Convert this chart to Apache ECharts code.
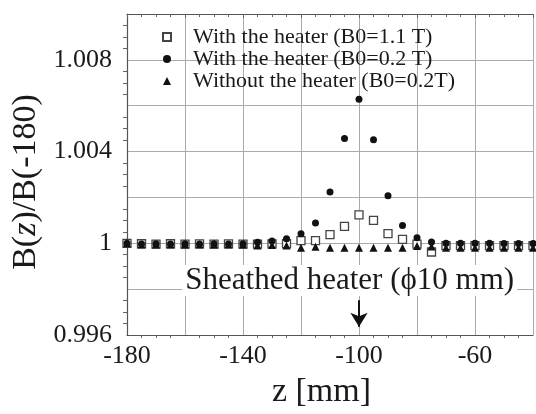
<!DOCTYPE html>
<html>
<head>
<meta charset="utf-8">
<script src="https://cdn.jsdelivr.net/npm/echarts@6/dist/echarts.min.js"></script>
<style>
  html, body { margin: 0; padding: 0; background: #fff; }
  #chart { width: 536px; height: 414px; }
</style>
</head>
<body>
<div id="chart"></div>
<script>
// z positions [mm]
var zList = [-180, -175, -170, -165, -160, -155, -150, -145, -140, -135, -130, -125, -120, -115, -110,
  -105, -100, -95, -90, -85, -80, -75, -70, -65, -60, -55, -50, -45, -40];
// with the heater, B0=1.1 T (open squares)
var heater11 = [1.0, 0.99998, 0.99996, 0.99998, 0.99996, 0.99997, 0.99996, 0.99997, 0.99996, 0.99996,
  0.99997, 0.99998, 1.00012, 1.00012, 1.00038, 1.00074, 1.00124, 1.00100, 1.00042, 1.00017,
  0.99996, 0.99962, 0.99990, 0.99990, 0.99990, 0.99990, 0.99990, 0.99990, 0.99990];
// with the heater, B0=0.2 T (filled circles)
var heater02 = [1.0, 0.99997, 0.99998, 0.99997, 0.99998, 0.99997, 0.99998, 0.99997, 0.99998, 1.00005,
  1.00010, 1.00020, 1.00042, 1.00088, 1.00224, 1.00457, 1.00628, 1.00452, 1.00207, 1.00078,
  1.00024, 1.00006, 1.0, 1.0, 1.0, 1.0, 0.99999, 0.99999, 0.99999];
// without the heater, B0=0.2 T (filled triangles)
var noHeater = [1.0, 0.99995, 0.99995, 0.99995, 0.99995, 0.99995, 0.99995, 0.99995, 0.99995, 0.99990,
  0.99992, 0.99990, 0.99981, 0.99985, 0.99981, 0.99981, 0.99981, 0.99981, 0.99981, 0.99981,
  0.99988, 0.99986, 0.99981, 0.99981, 0.99981, 0.99981, 0.99981, 0.99981, 0.99981];

var names = ['With the heater (B0=1.1 T)', 'With the heater (B0=0.2 T)', 'Without the heater (B0=0.2T)'];
var serif = 'Liberation Serif';

function pairs(vals) {
  return zList.map(function (z, i) { return [z, vals[i]]; });
}

var myChart = echarts.init(document.getElementById('chart'));
var option = {
  backgroundColor: '#fff',
  animation: false,
  legend: {
    orient: 'vertical',
    left: 162,
    top: 26,
    padding: 0,
    itemGap: 0,
    itemWidth: 8,
    itemHeight: 8,
    data: names,
    textStyle: {
      fontFamily: serif,
      fontSize: 22,
      lineHeight: 21,
      color: '#1a1a1a',
      padding: [0, 0, 0, 17]
    }
  },
  grid: { left: 127, right: 0, top: 14, bottom: 73 },
  xAxis: [{
    type: 'value',
    min: -180,
    max: -40,
    interval: 20,
    name: 'z [mm]',
    nameLocation: 'middle',
    nameGap: 40,
    nameTextStyle: { fontFamily: serif, fontSize: 34, color: '#1a1a1a', padding: [0, 17, 0, 0] },
    axisLine: { lineStyle: { color: '#555', width: 1.2 } },
    axisTick: { show: false },
    minorTick: { show: true, splitNumber: 4, length: 3, inside: true, lineStyle: { color: '#666' } },
    splitLine: { show: true, lineStyle: { color: '#aaa', width: 1 } },
    axisLabel: {
      fontFamily: serif, fontSize: 26, color: '#1a1a1a', margin: 8,
      formatter: function (v) { return (v + 180) % 40 === 0 ? String(v) : ''; }
    }
  }, {
    type: 'value',
    position: 'top',
    min: -180,
    max: -40,
    interval: 20,
    axisLine: { show: true, lineStyle: { color: '#555', width: 1.2 } },
    axisTick: { show: true, inside: true, length: 4, lineStyle: { color: '#666' } },
    minorTick: { show: true, splitNumber: 4, length: 3, inside: true, lineStyle: { color: '#666' } },
    splitLine: { show: false },
    axisLabel: { show: false }
  }],
  yAxis: {
    type: 'value',
    min: 0.996,
    max: 1.010,
    interval: 0.002,
    name: 'B({i|z})/B(-180)',
    nameLocation: 'middle',
    nameRotate: 90,
    nameGap: 82,
    nameTextStyle: {
      fontFamily: serif, fontSize: 34, color: '#1a1a1a', padding: [0, 15, 0, 0],
      rich: { i: { fontFamily: serif, fontSize: 34, fontStyle: 'italic', color: '#1a1a1a' } }
    },
    axisLine: { show: true, lineStyle: { color: '#555', width: 1.2 } },
    axisTick: { show: false },
    minorTick: { show: true, splitNumber: 4, length: 4, inside: true, lineStyle: { color: '#666' } },
    splitLine: { show: true, lineStyle: { color: '#aaa', width: 1 } },
    axisLabel: {
      fontFamily: serif, fontSize: 26, color: '#1a1a1a', margin: 15,
      formatter: function (v) {
        return Math.round(v * 1000) % 4 === 0 ? String(+v.toFixed(3)) : '';
      }
    }
  },
  series: [{
    name: names[0],
    type: 'scatter',
    symbol: 'rect',
    symbolSize: 8,
    itemStyle: { color: '#fff', borderColor: '#444', borderWidth: 1.3, opacity: 1 },
    data: pairs(heater11),
    markLine: {
      silent: true,
      symbol: ['none', 'arrow'],
      symbolSize: [13, 14],
      label: { show: false },
      lineStyle: { color: '#111', width: 2, type: 'solid' },
      data: [[{ coord: [-100, 0.99752] }, { coord: [-100, 0.99636] }]]
    },
    markPoint: {
      silent: true,
      symbol: 'rect',
      symbolSize: 1,
      itemStyle: { color: 'rgba(0,0,0,0)' },
      label: {
        show: true,
        position: 'inside',
        fontFamily: serif,
        fontSize: 31,
        color: '#1a1a1a',
        backgroundColor: '#fff',
        padding: [0, 3],
        formatter: 'Sheathed heater (\u03D510 mm)'
      },
      data: [{ coord: [-103.2, 0.99838] }]
    }
  }, {
    name: names[2],
    type: 'scatter',
    symbol: 'triangle',
    symbolSize: 8,
    itemStyle: { color: '#111', opacity: 1 },
    data: pairs(noHeater)
  }, {
    name: names[1],
    type: 'scatter',
    symbol: 'circle',
    symbolSize: 7,
    itemStyle: { color: '#111', opacity: 1 },
    data: pairs(heater02)
  }]
};
myChart.setOption(option);
</script>
</body>
</html>
